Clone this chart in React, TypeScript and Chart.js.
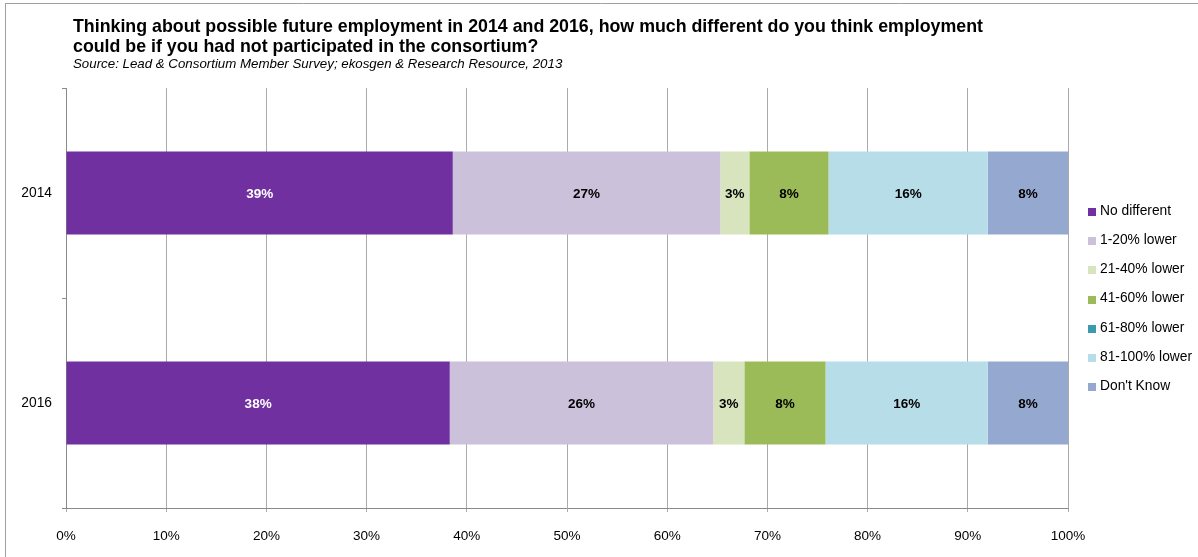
import React, { useEffect, useRef } from 'react';
import { Chart, registerables } from 'chart.js';

Chart.register(...registerables);

const categories = ['2014', '2016'];
const seriesLabels = ['No different', '1-20% lower', '21-40% lower', '41-60% lower', '61-80% lower', '81-100% lower', "Don't Know"];
const noDifferent = [38.6, 38.3];
const lower1to20 = [26.7, 26.3];
const lower21to40 = [2.9, 3.1];
const lower41to60 = [7.9, 8.1];
const lower61to80 = [0, 0];
const lower81to100 = [15.9, 16.2];
const dontKnow = [8.0, 8.0];
const seriesColors = ['#7030A0', '#CCC1DA', '#D7E4BD', '#9BBB59', '#3C9AB0', '#B7DEE8', '#95A9D0'];
const titleLines = [
  'Thinking about possible future employment in 2014 and 2016, how much different do you think employment',
  'could be if you had not participated in the consortium?',
];
const sourceText = 'Source: Lead & Consortium Member Survey; ekosgen & Research Resource, 2013';

const FONT = "'Liberation Sans', Arial, sans-serif";
const GRID = '#ababab';
const AXIS = '#8a8a8a';

export default function App() {
  const ref = useRef<HTMLCanvasElement | null>(null);

  useEffect(() => {
    const canvas = ref.current;
    if (!canvas) return;
    const seriesData = [noDifferent, lower1to20, lower21to40, lower41to60, lower61to80, lower81to100, dontKnow];

    const decor = {
      id: 'decor',
      beforeDraw(chart: any) {
        const c = chart.ctx;
        c.save();
        c.fillStyle = '#ffffff';
        c.fillRect(0, 0, chart.width, chart.height);
        c.strokeStyle = '#a0a0a0';
        c.lineWidth = 1;
        c.beginPath();
        c.moveTo(5.5, 3);
        c.lineTo(5.5, chart.height);
        c.moveTo(5, 3.5);
        c.lineTo(chart.width, 3.5);
        c.stroke();
        c.restore();
      },
      afterDraw(chart: any) {
        const c = chart.ctx;
        c.save();
        c.fillStyle = '#000000';
        c.textAlign = 'left';
        c.textBaseline = 'alphabetic';
        c.font = `bold 17.8px ${FONT}`;
        c.fillText(titleLines[0], 73, 32);
        c.fillText(titleLines[1], 73, 52);
        c.font = `italic 13.3px ${FONT}`;
        c.fillText(sourceText, 73, 68);

        // bar value labels
        c.font = `bold 13.5px ${FONT}`;
        c.textAlign = 'center';
        c.textBaseline = 'middle';
        chart.data.datasets.forEach((ds: any, di: number) => {
          const meta = chart.getDatasetMeta(di);
          meta.data.forEach((el: any, i: number) => {
            const v = ds.data[i];
            if (!v) return;
            const p = el.getCenterPoint();
            c.fillStyle = di === 0 ? '#ffffff' : '#000000';
            c.fillText(Math.round(v) + '%', p.x, p.y + 1.5);
          });
        });

        // legend
        c.textAlign = 'left';
        c.font = `13.8px ${FONT}`;
        chart.data.datasets.forEach((ds: any, di: number) => {
          const y = 211 + di * 29.2;
          c.fillStyle = ds.backgroundColor;
          c.fillRect(1088, Math.round(y) - 3, 8, 8);
          c.fillStyle = '#000000';
          c.fillText(ds.label, 1100, y);
        });
        c.restore();
      },
    };

    const chart = new Chart(canvas, {
      type: 'bar',
      data: {
        labels: categories,
        datasets: seriesLabels.map((label, i) => ({
          label,
          data: seriesData[i],
          backgroundColor: seriesColors[i],
          borderWidth: 0,
          barPercentage: 0.395,
          categoryPercentage: 1,
        })),
      },
      options: {
        indexAxis: 'y',
        responsive: false,
        animation: false,
        devicePixelRatio: 1,
        layout: { padding: { top: 88, right: 130, bottom: 0, left: 0 } },
        plugins: {
          legend: { display: false },
          title: { display: false },
          tooltip: { enabled: false },
        },
        scales: {
          x: {
            type: 'linear',
            stacked: true,
            min: 0,
            max: 100,
            ticks: {
              stepSize: 10,
              callback: (v: any) => v + '%',
              color: '#000000',
              font: { family: FONT, size: 13.5 },
              padding: 16,
              maxRotation: 0,
            },
            grid: { color: GRID, tickLength: 4, tickColor: GRID },
            border: { display: true, color: AXIS },
            afterFit: (s: any) => {
              s.height = 49;
            },
          },
          y: {
            type: 'category',
            stacked: true,
            offset: true,
            ticks: {
              color: '#000000',
              font: { family: FONT, size: 13.8 },
              padding: 10,
            },
            grid: { offset: true, drawOnChartArea: false, drawTicks: true, tickLength: 4, tickColor: AXIS },
            border: { display: true, color: AXIS },
            afterFit: (s: any) => {
              s.width = 66;
            },
          },
        },
      },
      plugins: [decor],
    });
    return () => chart.destroy();
  }, []);

  return (
    <div style={{ position: 'absolute', left: 0, top: 0, width: 1198, height: 557 }}>
      <canvas ref={ref} width={1198} height={557} style={{ display: 'block' }} />
    </div>
  );
}
